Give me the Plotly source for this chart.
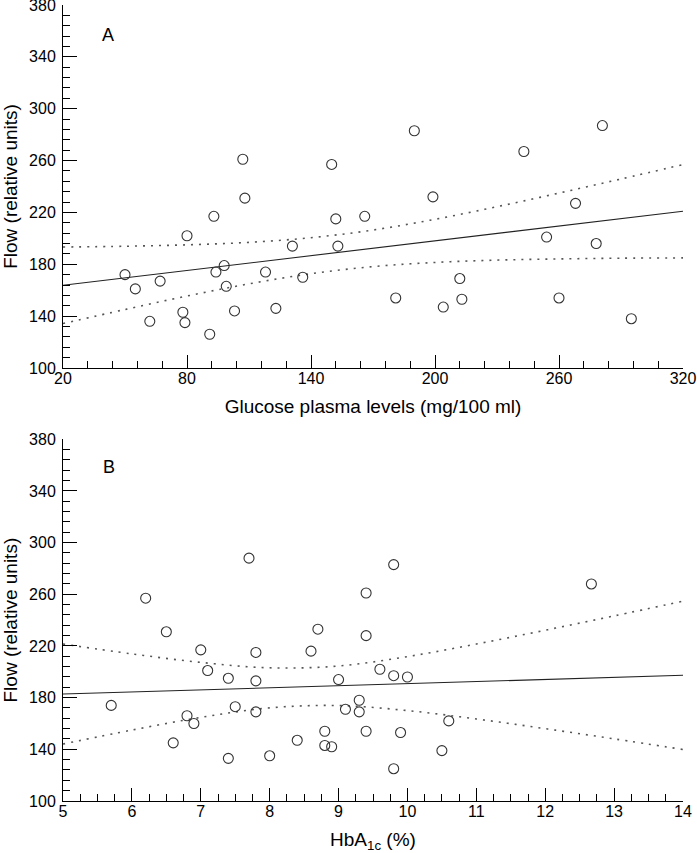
import plotly.graph_objects as go

# ---------------- Panel A data: glucose vs flow ----------------
glucose = [50, 55, 62, 67, 78, 79, 80, 91, 93, 94, 98, 99, 103, 107, 108, 118, 123, 131,
           136, 150, 152, 153, 166, 181, 190, 199, 204, 212, 213, 243, 254, 260, 268, 278,
           281, 295]
flow_a = [172, 161, 136, 167, 143, 135, 202, 126, 217, 174, 179, 163, 144, 261, 231, 174, 146, 194,
          170, 257, 215, 194, 217, 154, 283, 232, 147, 169, 153, 267, 201, 154, 227, 196,
          287, 138]
fit_a_x = [20, 320]
fit_a_y = [163.8, 220.9]
band_a_x = [20, 50, 80, 110, 140, 170, 200, 230, 260, 290, 320]
band_a_upper = [193.3, 193.9, 195.0, 196.9, 200.5, 206.4, 214.7, 224.4, 234.9, 245.8, 256.9]
band_a_lower = [134.3, 145.1, 155.5, 164.9, 172.7, 178.2, 181.4, 183.2, 184.1, 184.7, 184.9]

# ---------------- Panel B data: HbA1c vs flow ----------------
hba1c = [5.7, 6.2, 6.5, 6.6, 6.8, 6.9, 7.0, 7.1, 7.4, 7.4, 7.5, 7.7, 7.8, 7.8, 7.8, 8.0, 8.4, 8.6,
         8.7, 8.8, 8.8, 8.9, 9.0, 9.1, 9.3, 9.3, 9.4, 9.4, 9.4, 9.6, 9.8, 9.8, 9.8, 9.9, 10.0,
         10.5, 10.6, 12.67]
flow_b = [174, 257, 231, 145, 166, 160, 217, 201, 195, 133, 173, 288, 215, 193, 169, 135, 147, 216,
          233, 154, 143, 142, 194, 171, 178, 169, 261, 228, 154, 202, 283, 197, 125, 153, 196,
          139, 162, 268]
fit_b_x = [5, 14]
fit_b_y = [182.8, 197.3]
band_b_x = [5, 6, 7, 8, 9, 10, 11, 12, 13, 14]
band_b_upper = [221.5, 213.9, 207.3, 203.1, 204.5, 211.8, 221.5, 232.2, 243.3, 254.7]
band_b_lower = [144.1, 154.9, 164.7, 172.1, 173.9, 170.0, 163.5, 156.0, 148.1, 139.9]

FONT = "Liberation Sans, Arial, Helvetica, sans-serif"
MARK = dict(symbol="circle-open", size=10, color="#333333", line=dict(width=1.1, color="#333333"))
DOT = dict(color="#555555", width=1.6, dash="2px,6px")
SOLID = dict(color="#222222", width=1.1)

fig = go.Figure()

def add_panel(xa, ya, xs, ys, fx, fy, bx, bu, bl):
    fig.add_trace(go.Scatter(x=bx, y=bu, mode="lines", line=dict(shape="spline", **DOT),
                             xaxis=xa, yaxis=ya, hoverinfo="skip"))
    fig.add_trace(go.Scatter(x=bx, y=bl, mode="lines", line=dict(shape="spline", **DOT),
                             xaxis=xa, yaxis=ya, hoverinfo="skip"))
    fig.add_trace(go.Scatter(x=fx, y=fy, mode="lines", line=SOLID, xaxis=xa, yaxis=ya))
    fig.add_trace(go.Scatter(x=xs, y=ys, mode="markers", marker=MARK, xaxis=xa, yaxis=ya))

add_panel("x", "y", glucose, flow_a, fit_a_x, fit_a_y, band_a_x, band_a_upper, band_a_lower)
add_panel("x2", "y2", hba1c, flow_b, fit_b_x, fit_b_y, band_b_x, band_b_upper, band_b_lower)

axis_common = dict(showline=True, linecolor="black", linewidth=1, showgrid=False, zeroline=False,
                   automargin=False, ticklabeloverflow="allow",
                   ticks="inside", tickcolor="black", tickwidth=1, ticklen=14,
                   tickfont=dict(family=FONT, size=16, color="black"),
                   title_font=dict(family=FONT, size=19, color="black"))

def yaxis(domain, anchor):
    return dict(axis_common, domain=domain, anchor=anchor, range=[100, 380],
                tickmode="linear", tick0=100, dtick=40, ticklabelstandoff=3,
                minor=dict(ticks="inside", ticklen=7, tickcolor="black", dtick=8, tick0=100),
                title=dict(text="Flow (relative units)", standoff=11))

def xaxis(anchor, rng, dtick, mdtick, title):
    return dict(axis_common, domain=[0, 1], anchor=anchor, range=rng,
                tickmode="linear", tick0=rng[0], dtick=dtick, ticklen=13, ticklabelstandoff=-4,
                minor=dict(ticks="inside", ticklen=7, tickcolor="black", dtick=mdtick, tick0=rng[0]),
                title=dict(text=title, standoff=13))

fig.update_layout(
    width=697, height=853, showlegend=False,
    margin=dict(l=63, r=14, t=5, b=52),
    paper_bgcolor="white", plot_bgcolor="white",
    font=dict(family=FONT, color="black"),
    xaxis=xaxis("y", [20, 320], 60, 12, "Glucose plasma levels (mg/100 ml)"),
    yaxis=yaxis([0.544, 1.0], "x"),
    xaxis2=xaxis("y2", [5, 14], 1, 0.25, "HbA<sub>1c</sub> (%)"),
    yaxis2=yaxis([0.0, 0.4544], "x2"),
    annotations=[
        dict(text="A", x=0.059, y=0.95, xref="x domain", yref="y domain", showarrow=False,
             font=dict(family=FONT, size=18, color="black")),
        dict(text="B", x=0.061, y=0.957, xref="x2 domain", yref="y2 domain", showarrow=False,
             font=dict(family=FONT, size=18, color="black")),
    ],
)

fig.write_html("out.html", config={"displayModeBar": False},
               post_script="document.body.style.margin='0px';")
